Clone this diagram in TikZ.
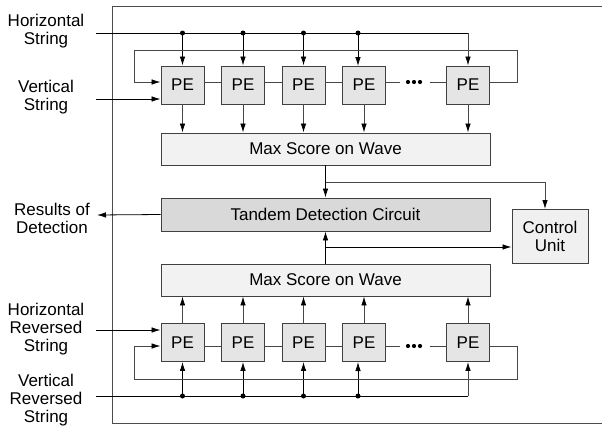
\documentclass[tikz,border=0pt]{standalone}
\usepackage{fontspec}
\setmainfont{Liberation Sans}
\usetikzlibrary{arrows.meta,calc}
\begin{document}
\begin{tikzpicture}[x=1pt,y=-1pt,
  every node/.style={font=\fontsize{17}{18}\selectfont},
  box/.style={draw=black!75, line width=0.9pt, inner sep=0pt},
  pe/.style={box, fill=black!10, minimum width=43pt, minimum height=38pt},
  wide/.style={box, minimum width=329pt, minimum height=32pt},
  arr/.style={-{Latex[length=9pt,width=5.5pt,color=black]}, line width=0.8pt},
  wire/.style={line width=0.8pt, draw=black!72},
  blk/.style={line width=0.8pt, draw=black},
  jdot/.style={circle, fill=black, inner sep=0pt, minimum size=5pt},
  lbl/.style={align=center}
]
\useasboundingbox (0,0) rectangle (602,431);
% outer frame (open to the right)
\draw[line width=0.9pt, draw=black!70] (602,6) -- (112,6) -- (112,423) -- (602,423);

% PE arrays
\foreach \i/\x in {1/182.5,2/243,3/303.5,4/364,5/468}{
  \node[pe] (u\i) at (\x,85) {PE};
  \node[pe] (l\i) at (\x,342.5) {PE};
}
% wide boxes
\node[wide, fill=black!5] (ms1) at (325.5,149) {Max Score on Wave};
\node[wide, fill=black!15, minimum height=33pt] (td) at (325.5,214.5) {Tandem Detection Circuit};
\node[wide, fill=black!5] (ms2) at (325.5,280) {Max Score on Wave};
\node[box, fill=black!6, minimum width=76pt, minimum height=54pt, align=center] (cu) at (550,236) {Control\\Unit};

% labels
\node[lbl] (hs) at (46,31) {Horizontal\\String};
\node[lbl] (vs) at (46,97) {Vertical\\String};
\node[lbl] (rd) at (52,218) {Results of\\Detection};
\node[lbl] (hrs) at (46,329.5) {Horizontal\\Reversed\\String};
\node[lbl] (vrs) at (46,400) {Vertical\\Reversed\\String};

% ---------- upper array ----------
\coordinate (hsA) at (96,33);
\coordinate (hsB) at (468,33);
\coordinate (u4in) at (358,66);
\draw[blk] (hsA) -- (hsB);
\draw[wire,arr] (hsB) -- (u5.north);
\foreach \i in {1,2,3}{
  \draw[blk,arr] (u\i.north |- hsA) -- (u\i.north);
  \node[jdot] at (u\i.north |- hsA) {};
}
\draw[blk,arr] (u4in |- hsA) -- (u4in);
\node[jdot] at (u4in |- hsA) {};

\coordinate (vsA) at (96,99);
\draw[blk,arr] (vsA) -- (u1.west |- vsA);

\foreach \a/\b in {1/2,2/3,3/4}{
  \draw[wire] ($(u\a.east)+(0,-3)$) -- ($(u\b.west)+(0,-3)$);
}
\draw[wire] ($(u4.east)+(0,-3)$) -- (400,82);
\draw[wire] (430,82) -- ($(u5.west)+(0,-3)$);
\foreach \x in {408,414,420}{ \fill (\x,82) circle (2.1pt); }
\draw[wire,arr] ($(u5.east)+(0,-3)$) -- (517,82) -- (517,50) -- (134,50) -- (134,82) -- ($(u1.west)+(0,-3)$);

\foreach \i in {1,2,3,4,5}{
  \draw[wire,arr] (u\i.south) -- (u\i.south |- ms1.north);
}

% ---------- middle ----------
\draw[blk,arr] (ms1.south) -- (td.north);
\coordinate (br1) at (325.5,182);
\coordinate (cuin) at (545,209);
\draw[wire,arr] (br1) -| (cuin);
\draw[blk,arr] (ms2.north) -- (td.south);
\coordinate (br2) at (325.5,247);
\draw[blk,arr] (br2) -- (cu.west |- br2);
\draw[blk,arr] (td.west) -- (97,215);

% ---------- lower array ----------
\coordinate (hrA) at (96,330);
\draw[blk,arr] (hrA) -- (l1.west |- hrA);

\coordinate (vrA) at (96,396);
\coordinate (vrB) at (468,396);
\coordinate (l4in) at (358,362);
\draw[blk] (vrA) -- (vrB);
\draw[wire,arr] (vrB) -- (l5.south);
\foreach \i in {1,2,3}{
  \draw[blk,arr] (l\i.south |- vrA) -- (l\i.south);
  \node[jdot] at (l\i.south |- vrA) {};
}
\draw[blk,arr] (l4in |- vrA) -- (l4in);
\node[jdot] at (l4in |- vrA) {};

\foreach \a/\b in {1/2,2/3,3/4}{
  \draw[wire] ($(l\a.east)+(0,3.5)$) -- ($(l\b.west)+(0,3.5)$);
}
\draw[wire] ($(l4.east)+(0,3.5)$) -- (400,346);
\draw[wire] (430,346) -- ($(l5.west)+(0,3.5)$);
\foreach \x in {408,414,420}{ \fill (\x,346) circle (2.1pt); }
\draw[wire,arr] ($(l5.east)+(0,3.5)$) -- (517,346) -- (517,379) -- (134,379) -- (134,346) -- ($(l1.west)+(0,3.5)$);

\foreach \i in {1,2,3,4,5}{
  \draw[wire,arr] (l\i.north) -- (l\i.north |- ms2.south);
}
\end{tikzpicture}
\end{document}
